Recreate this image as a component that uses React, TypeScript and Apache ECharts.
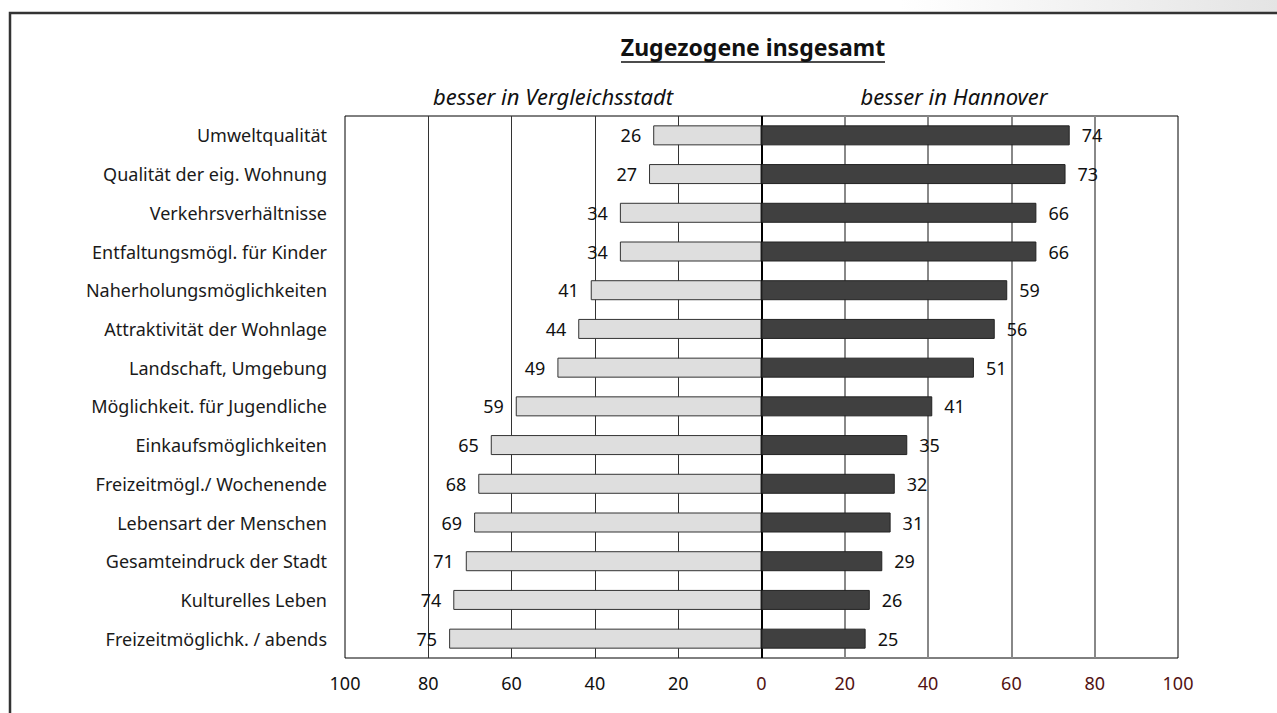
import React, { useEffect, useRef } from "react";
import * as echarts from "echarts";

const categories = [
  "Umweltqualität",
  "Qualität der eig. Wohnung",
  "Verkehrsverhältnisse",
  "Entfaltungsmögl. für Kinder",
  "Naherholungsmöglichkeiten",
  "Attraktivität der Wohnlage",
  "Landschaft, Umgebung",
  "Möglichkeit. für Jugendliche",
  "Einkaufsmöglichkeiten",
  "Freizeitmögl./ Wochenende",
  "Lebensart der Menschen",
  "Gesamteindruck der Stadt",
  "Kulturelles Leben",
  "Freizeitmöglichk. / abends",
];
const besserVergleichsstadt = [26, 27, 34, 34, 41, 44, 49, 59, 65, 68, 69, 71, 74, 75];
const besserHannover = [74, 73, 66, 66, 59, 56, 51, 41, 35, 32, 31, 29, 26, 25];
const rightGridValues = [20, 40, 60, 80];

const FONT = "Noto Sans";

export default function App() {
  const ref = useRef<HTMLDivElement>(null);
  useEffect(() => {
    if (!ref.current) return;
    const chart = echarts.init(ref.current, undefined, { renderer: "svg" });
    chart.setOption({
      animation: false,
      backgroundColor: "#fff",
      textStyle: { fontFamily: FONT },
      grid: {
        left: 345,
        right: 99,
        top: 116,
        bottom: 55,
        show: true,
        borderColor: "#000",
        borderWidth: 1,
        backgroundColor: "transparent",
      },
      xAxis: {
        type: "value",
        min: -100,
        max: 100,
        interval: 20,
        axisLine: { show: false },
        axisTick: { show: false },
        axisLabel: {
          margin: 16,
          fontSize: 18,
          fontFamily: FONT,
          formatter: (v: number) =>
            Number(v) >= 0 ? `{r|${Math.abs(v)}}` : `{b|${Math.abs(v)}}`,
          rich: {
            r: { color: "#521212", fontSize: 18, fontFamily: FONT },
            b: { color: "#111", fontSize: 18, fontFamily: FONT },
          },
        },
        splitLine: {
          show: true,
          lineStyle: {
            color: ["transparent", "#333", "#333", "#333", "#333", "transparent", "transparent", "transparent", "transparent", "transparent", "transparent"],
            width: 1,
          },
        },
      },
      yAxis: {
        type: "category",
        inverse: true,
        data: categories,
        axisLine: { show: false },
        axisTick: { show: false },
        axisLabel: { margin: 18, fontSize: 18, color: "#1a1a1a", fontFamily: FONT },
      },
      series: [
        {
          name: "besser in Vergleichsstadt",
          type: "bar",
          data: besserVergleichsstadt.map((v) => -v),
          barWidth: 20,
          barGap: "-100%",
          itemStyle: { color: "#dedede", borderColor: "#333", borderWidth: 1 },
          label: {
            show: true,
            position: "left",
            distance: 12,
            fontSize: 18,
            color: "#111",
            fontFamily: FONT,
            formatter: (p: any) => String(Math.abs(p.value)),
          },
          z: 3,
        },
        {
          name: "besser in Hannover",
          type: "bar",
          data: besserHannover,
          barWidth: 20,
          itemStyle: { color: "#404040", borderColor: "#222", borderWidth: 1 },
          label: {
            show: true,
            position: "right",
            distance: 12,
            fontSize: 18,
            color: "#111",
            fontFamily: FONT,
          },
          z: 3,
          markLine: {
            silent: true,
            symbol: "none",
            label: { show: false },
            z: 2,
            data: [
              ...rightGridValues.map((v) => ({ xAxis: v, lineStyle: { color: "#888", width: 2, type: "solid" } })),
              { xAxis: 0, lineStyle: { color: "#000", width: 2, type: "solid" }, z: 5 },
            ],
          },
        },
      ],
      graphic: [
        {
          type: "rect",
          shape: { x: 900, y: 0, width: 377, height: 12 },
          style: {
            fill: new echarts.graphic.LinearGradient(0, 0, 1, 0, [
              { offset: 0, color: "#ffffff" },
              { offset: 1, color: "#e4e4e4" },
            ]),
          },
          silent: true,
        },
        {
          type: "polyline",
          shape: { points: [[10, 713], [10, 13], [1277, 13]] },
          style: { stroke: "#333", lineWidth: 2.5, fill: "none" },
          silent: true,
        },
        {
          type: "text",
          x: 753,
          y: 47,
          style: {
            text: "Zugezogene insgesamt",
            fontSize: 23,
            fontWeight: "bold",
            fontFamily: FONT,
            fill: "#111",
            align: "center",
            verticalAlign: "middle",
          },
        },
        {
          type: "line",
          shape: { x1: 621, y1: 62, x2: 885, y2: 62 },
          style: { stroke: "#111", lineWidth: 1.5 },
        },
        {
          type: "text",
          x: 553,
          y: 96,
          style: {
            text: "besser in Vergleichsstadt",
            fontSize: 22,
            fontStyle: "italic",
            fontFamily: FONT,
            fill: "#111",
            align: "center",
            verticalAlign: "middle",
          },
        },
        {
          type: "text",
          x: 954,
          y: 96,
          style: {
            text: "besser in Hannover",
            fontSize: 22,
            fontStyle: "italic",
            fontFamily: FONT,
            fill: "#111",
            align: "center",
            verticalAlign: "middle",
          },
        },
      ],
    });
    return () => chart.dispose();
  }, []);
  return (
    <div
      ref={ref}
      style={{ position: "fixed", left: 0, top: 0, width: 1277, height: 713 }}
    />
  );
}
